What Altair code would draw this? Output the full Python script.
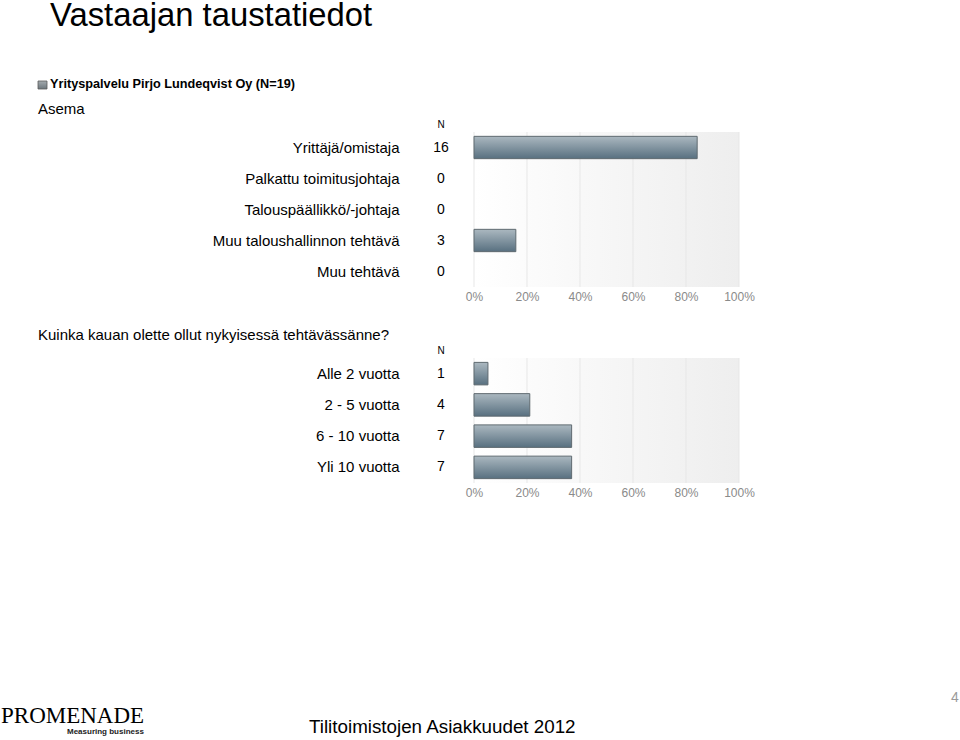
import altair as alt
import pandas as pd

# ---------------- data ----------------
TOTAL = 19
q1_categories = ["Yrittäjä/omistaja", "Palkattu toimitusjohtaja", "Talouspäällikkö/-johtaja",
                 "Muu taloushallinnon tehtävä", "Muu tehtävä"]
q1_counts = [16, 0, 0, 3, 0]
q2_categories = ["Alle 2 vuotta", "2 - 5 vuotta", "6 - 10 vuotta", "Yli 10 vuotta"]
q2_counts = [1, 4, 7, 7]
x_ticks = [0, 0.2, 0.4, 0.6, 0.8, 1.0]

title_text = "Vastaajan taustatiedot"
legend_text = "Yrityspalvelu Pirjo Lundeqvist Oy (N=19)"
q1_title = "Asema"
q2_title = "Kuinka kauan olette ollut nykyisessä tehtävässänne?"
footer_text = "Tilitoimistojen Asiakkuudet 2012"
page_number = "4"

# ---------------- style ----------------
FONT = "Liberation Sans"
W = 265
H1 = 155
H2 = 125

bar_grad = alt.Gradient(
    gradient="linear",
    stops=[alt.GradientStop(color="#abb8c0", offset=0),
           alt.GradientStop(color="#587080", offset=1)],
    x1=0, x2=0, y1=0, y2=1)
bg_grad = alt.Gradient(
    gradient="linear",
    stops=[alt.GradientStop(color="#ffffff", offset=0),
           alt.GradientStop(color="#eeeeee", offset=1)],
    x1=0, x2=1, y1=0, y2=0)
sq_grad = alt.Gradient(
    gradient="linear",
    stops=[alt.GradientStop(color="#a4abaf", offset=0),
           alt.GradientStop(color="#6c767c", offset=1)],
    x1=0, x2=0, y1=0, y2=1)


def one_row():
    return alt.Data(values=[{"k": 1}])


def text_mark(txt, x, y, size, color="#000000", weight="normal", align="left",
              baseline="alphabetic", font=FONT):
    return alt.Chart(alt.Data(values=[{"t": txt}])).mark_text(
        align=align, baseline=baseline, fontSize=size, font=font, color=color,
        fontWeight=weight
    ).encode(x=alt.value(x), y=alt.value(y), text="t:N")


def x_axis():
    return alt.Axis(values=x_ticks, format=".0%", labelColor="#8a8a8a",
                    labelFontSize=12, labelFont=FONT, labelPadding=4,
                    domain=False, ticks=False, grid=False, labelFlush=False,
                    labelOverlap=False, title=None, zindex=1)


def panel(cats, counts, height):
    df = pd.DataFrame({"cat": cats, "n": counts})
    df["pct"] = df["n"] / TOTAL
    xscale = alt.Scale(domain=[0, 1])
    yscale = alt.Scale(domain=cats, paddingInner=0.28, paddingOuter=0.14)

    bg = alt.Chart(one_row()).mark_rect(fill=bg_grad).encode(
        x=alt.value(0), x2=alt.value(W), y=alt.value(0), y2=alt.value(height))
    grid = alt.Chart(pd.DataFrame({"v": x_ticks})).mark_rule(
        color="#e7e7e7", strokeWidth=1).encode(
        x=alt.X("v:Q", scale=xscale, axis=x_axis()))
    bars = alt.Chart(df).transform_filter("datum.n > 0").mark_bar(
        fill=bar_grad, stroke="#5f6a70", strokeWidth=1, cornerRadius=0
    ).encode(
        x=alt.X("pct:Q", scale=xscale, axis=x_axis()),
        y=alt.Y("cat:N", scale=yscale, sort=cats,
                axis=alt.Axis(labelAlign="right", labelPadding=75, labelFontSize=15,
                              labelFont=FONT, labelColor="#000000", labelLimit=400,
                              domain=False, ticks=False, grid=False, title=None,
                              zindex=1)),
    )
    ntext = alt.Chart(df).mark_text(
        align="center", baseline="middle", fontSize=14, font=FONT, color="#000000"
    ).encode(
        x=alt.value(-33),
        y=alt.Y("cat:N", scale=yscale, sort=cats),
        text="n:Q")
    return [bg, grid, bars, ntext]


# ---------------- panel 1 ----------------
frame = alt.Chart(one_row()).mark_rect(fill="white", opacity=0).encode(
    x=alt.value(-474), x2=alt.value(486), y=alt.value(-132), y2=alt.value(608))
legend_sq = alt.Chart(one_row()).mark_rect(fill=sq_grad, stroke="#5a5a5a", strokeWidth=0.8).encode(
    x=alt.value(-436), x2=alt.value(-427), y=alt.value(-51), y2=alt.value(-43))

c1 = alt.layer(
    frame,
    *panel(q1_categories, q1_counts, H1),
    text_mark(title_text, -424, -106, 32.8),
    legend_sq,
    text_mark(legend_text, -424, -44, 12.7, weight="bold"),
    text_mark(q1_title, -436, -18, 15),
    text_mark("N", -33, -4, 10, align="center"),
).properties(width=W, height=H1)

# ---------------- panel 2 ----------------
c2 = alt.layer(
    *panel(q2_categories, q2_counts, H2),
    text_mark(q2_title, -436, -18, 15),
    text_mark("N", -33, -4, 10, align="center"),
    text_mark("PROMENADE", -473, 365, 23, font="Liberation Serif"),
    text_mark("Measuring business", -407, 376, 8, weight="bold", color="#222222"),
    text_mark(footer_text, -165, 375, 18.8),
    text_mark(page_number, 481, 344, 14, color="#9a9a9a", align="center"),
).properties(width=W, height=H2)

chart = alt.vconcat(c1, c2, spacing=71, bounds="flush").properties(
    padding=0, background="white"
).configure_view(stroke=None)

chart.save("out.html", embed_options={"renderer": "svg", "actions": False})
